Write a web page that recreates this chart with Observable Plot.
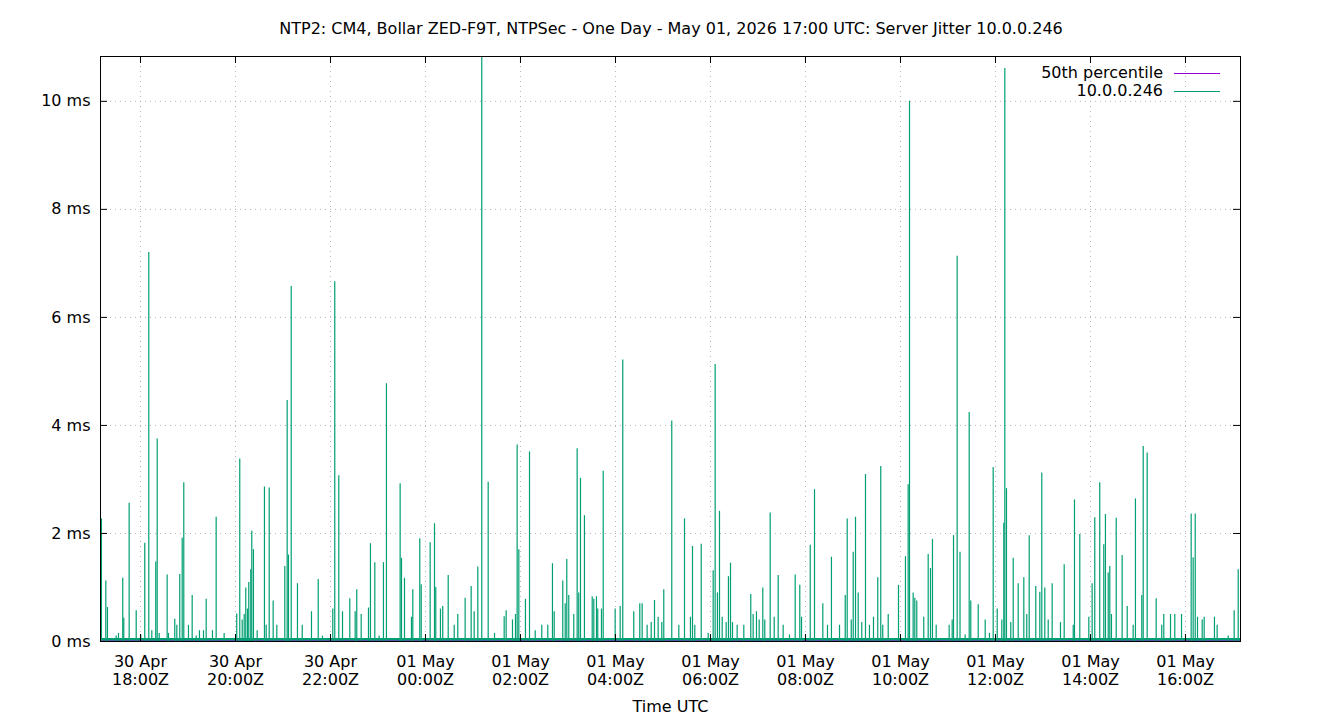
<!DOCTYPE html>
<html>
<head>
<meta charset="utf-8">
<script src="https://cdn.jsdelivr.net/npm/d3@7"></script>
<script src="https://cdn.jsdelivr.net/npm/@observablehq/plot@0.6"></script>
<style>
  body { margin: 0; background: #fff; font-family: "DejaVu Sans", sans-serif; color: #000; }
  #wrap { position: relative; width: 1340px; height: 720px; overflow: hidden; }
  #title { height: 40px; box-sizing: border-box; padding-top: 20px; line-height: 18px; text-align: center; font-size: 16px; white-space: nowrap; padding-left: 2px; }
  #legend { position: absolute; top: 64px; right: 120px; font-size: 16px; line-height: 18px; }
  .lg { display: flex; align-items: center; justify-content: flex-end; }
  .lg span.sw { display: inline-block; width: 46px; height: 0; border-top: 1px solid; margin-left: 11px; }
</style>
</head>
<body>
<div id="wrap">
  <div id="title">NTP2: CM4, Bollar ZED-F9T, NTPSec - One Day - May 01, 2026 17:00 UTC: Server Jitter 10.0.0.246</div>
  <div id="chart"></div>
  <div id="legend"></div>
</div>
<script>
// Reference instant: minutes below are counted from 30 Apr 2026 17:00 UTC
const originISO = "2026-04-30T17:00:00Z";
const domainMinutes = [9.5, 1449.5];

// Server jitter samples (minutes after origin, value in ms)
const jitterMinute = [
  10.7, 16.2, 18.3, 29.3, 32.2, 37.6, 38.9, 45.7, 54.6, 60.4, 65.4, 70.5, 74.3, 79.3, 81.1, 83.6, 93.7, 95.4,
  103.3, 105.9, 109.6, 112.7, 114.7, 120.6, 125.3, 130.4, 134.5, 139.6, 143, 150.9, 155.6, 165.7, 181.6, 185.4,
  188.5, 191, 193, 195.2, 196.8, 199.3, 200.6, 202.7, 207.4, 216.6, 218.8, 222.6, 227.6, 232.2, 242.3, 245.3,
  246.9, 250.4, 258.3, 264.3, 276, 284.5, 289.9, 302.9, 305.4, 310.5, 315.2, 324.4, 331.2, 333.2, 338.8, 348,
  350.5, 356, 361.5, 366.9, 370.7, 388, 389.7, 393.5, 402.3, 404, 412.8, 414.6, 425.9, 431.4, 433, 438.9, 441.8,
  448.7, 456.3, 460.8, 470.1, 477.7, 481.5, 486.1, 491.1, 499.2, 507.2, 519.4, 521.9, 529.9, 533.7, 535.8, 537.9,
  546.3, 551.4, 558.6, 566.9, 574.5, 580.4, 582.6, 593.4, 596.5, 598.5, 601, 607.3, 611.6, 613.6, 615.8, 620.8,
  630.6, 632.6, 636, 637.6, 642.3, 644.5, 659.6, 665.9, 669.2, 683.1, 690.7, 693.7, 700, 705.1, 709.3, 713.9,
  718.5, 721, 731.1, 740, 747.2, 754.7, 757.3, 760.2, 768.3, 777.1, 783.4, 785.9, 788.8, 791.4, 794.8, 799.8,
  802.7, 805.3, 807.8, 813.7, 822.1, 830.9, 833.9, 838.1, 841.5, 846.1, 848.6, 855.4, 860.5, 865.5, 871.8, 879.8,
  887, 892.8, 895, 906, 911.4, 921.9, 927.8, 932.8, 943, 950.2, 952.7, 957.8, 960.3, 963.2, 966.6, 971.1, 975.8,
  980.8, 985.9, 991.3, 995.1, 997.6, 1004.5, 1017.5, 1026.3, 1029.7, 1031.4, 1036, 1038.1, 1040.6, 1049.4, 1055,
  1057.9, 1060.4, 1065.1, 1081.5, 1085.3, 1087, 1091.6, 1095.2, 1101.7, 1106.8, 1108.8, 1118.2, 1127, 1132.4,
  1137.1, 1142.2, 1148, 1150.5, 1151.8, 1153.9, 1159.3, 1162.4, 1168.7, 1175.8, 1179.5, 1182.6, 1190.9, 1196,
  1198.5, 1202.3, 1206.6, 1211.6, 1222.1, 1226.8, 1238.2, 1239.8, 1246.5, 1257.9, 1262.1, 1265.4, 1271.7, 1276.8,
  1278.9, 1282.4, 1284.4, 1286.5, 1292.5, 1300, 1306.4, 1313.9, 1316.8, 1324.8, 1326.6, 1331.6, 1343, 1350,
  1352.6, 1361.1, 1366.5, 1375, 1387.2, 1389.7, 1392.3, 1395.2, 1401.1, 1403.6, 1416.6, 1420, 1434, 1441.5, 1446.6
];
const jitterMs = [
  2.27, 1.12, 0.63, 0.1, 0.15, 1.17, 0.43, 2.56, 0.57, 0.12, 1.82, 7.2, 0.2, 1.47, 3.75, 0.15, 1.23, 0.15,
  0.41, 0.3, 1.24, 1.91, 2.94, 0.3, 0.85, 0.1, 0.2, 0.2, 0.78, 0.2, 2.3, 0.15, 0.51, 3.38,
  0.4, 0.5, 0.99, 0.6, 1.09, 1.33, 2.04, 1.7, 0.2, 2.86, 0.3, 2.84, 0.75, 0.3, 1.39, 4.46,
  1.6, 6.57, 1.07, 0.3, 0.55, 1.15, 0.1, 0.6, 6.66, 3.07, 0.55, 0.79, 0.55, 0.96, 0.5, 0.62,
  1.81, 1.46, 0.1, 1.46, 4.77, 2.92, 1.54, 1.17, 0.45, 0.96, 1.9, 1.05, 1.83, 2.18, 1.0, 0.6, 0.65,
  1.22, 0.3, 0.5, 0.8, 1.02, 0.55, 1.38, 10.83, 2.95, 0.15, 0.46, 0.57, 0.4, 0.5, 3.64, 1.7,
  0.78, 3.51, 0.2, 0.3, 0.3, 1.44, 0.55, 1.12, 0.7, 1.52, 0.85, 0.5, 3.57, 0.9, 3.02, 2.33,
  0.83, 0.78, 0.83, 0.6, 0.6, 3.15, 0.6, 0.65, 5.21, 0.55, 0.7, 0.7, 0.3, 0.35, 0.76, 0.45,
  0.35, 0.96, 4.08, 0.3, 2.27, 0.45, 1.76, 0.3, 1.8, 0.15, 1.31, 5.13, 0.9, 2.41, 0.45, 0.35,
  1.2, 1.45, 0.35, 0.3, 0.3, 0.87, 0.5, 0.55, 0.4, 0.99, 0.4, 2.38, 0.45, 1.22, 0.3, 0.12,
  1.23, 1.04, 0.45, 1.78, 2.81, 0.7, 0.3, 1.56, 0.3, 0.85, 2.27, 0.4, 1.65, 2.3, 0.9, 0.35, 3.09,
  0.3, 0.45, 1.18, 3.24, 0.3, 0.5, 1.04, 1.57, 2.9, 10.0, 0.9, 0.8, 0.75, 0.45, 1.61,
  1.35, 1.89, 0.3, 0.3, 0.4, 1.96, 7.13, 1.65, 0.12, 4.24, 0.75, 0.68, 0.4, 0.15,
  3.22, 0.6, 0.4, 2.19, 10.61, 2.83, 0.35, 1.54, 1.07, 1.18, 0.5, 1.96, 1.02, 0.91,
  3.12, 0.99, 0.4, 1.07, 0.35, 1.42, 0.3, 2.62, 1.98, 0.45, 1.07, 2.29, 2.94, 1.79,
  2.35, 1.27, 1.39, 0.5, 2.28, 1.59, 0.65, 0.3, 2.64, 0.85, 3.61, 3.49, 0.79, 0.3,
  0.5, 0.5, 0.5, 0.5, 2.36, 1.55, 2.36, 0.45, 0.4, 0.45, 0.45, 0.3, 0.1, 0.57, 1.33
];
const floorMs = 0.04;        // typical jitter floor between spikes
const p50Ms = 0.02;          // 50th percentile

const yTicks = [0, 2, 4, 6, 8, 10];
const yMax = 10.83;
const xTickISO = [
  "2026-04-30T18:00:00Z", "2026-04-30T20:00:00Z", "2026-04-30T22:00:00Z", "2026-05-01T00:00:00Z",
  "2026-05-01T02:00:00Z", "2026-05-01T04:00:00Z", "2026-05-01T06:00:00Z", "2026-05-01T08:00:00Z",
  "2026-05-01T10:00:00Z", "2026-05-01T12:00:00Z", "2026-05-01T14:00:00Z", "2026-05-01T16:00:00Z"
];
const xTickLabels = [
  "30 Apr\n18:00Z", "30 Apr\n20:00Z", "30 Apr\n22:00Z", "01 May\n00:00Z",
  "01 May\n02:00Z", "01 May\n04:00Z", "01 May\n06:00Z", "01 May\n08:00Z",
  "01 May\n10:00Z", "01 May\n12:00Z", "01 May\n14:00Z", "01 May\n16:00Z"
];
const seriesNames = ["50th percentile", "10.0.0.246"];
const seriesColors = ["#9400d3", "#009e73"];

// ---- build ----
const origin = new Date(originISO).getTime();
const toDate = m => new Date(origin + m * 60000);
const jitter = jitterMinute.map((m, i) => ({t: toDate(m), v: jitterMs[i]}));
const xTicks = xTickISO.map(s => new Date(s));
const labelByTime = new Map(xTicks.map((d, i) => [+d, xTickLabels[i]]));
const xDomain = domainMinutes.map(toDate);

const W = 1340, H = 680, mL = 100, mR = 100, mT = 16, mB = 79;
const pw = W - mL - mR, ph = H - mT - mB, tk = 7;
const gridStyle = {stroke: "#b4b4b4", strokeOpacity: 1, strokeDasharray: "1,4"};

const chart = Plot.plot({
  width: W, height: H,
  marginLeft: mL, marginRight: mR, marginTop: mT, marginBottom: mB,
  style: {fontFamily: "'DejaVu Sans', sans-serif", fontSize: "16px", color: "#000", background: "#fff"},
  x: {type: "utc", domain: xDomain},
  y: {domain: [0, yMax]},
  marks: [
    Plot.gridY(yTicks, gridStyle),
    Plot.gridX(xTicks, gridStyle),
    Plot.ruleY([p50Ms], {stroke: seriesColors[0], strokeWidth: 1}),
    Plot.ruleX(jitter, {x: "t", y1: 0, y2: "v", stroke: seriesColors[1], strokeWidth: 1.2, clip: true}),
    Plot.ruleY([floorMs], {stroke: seriesColors[1], strokeWidth: 2.5}),
    Plot.tickY(yTicks, {y: d => d, insetRight: pw - tk, stroke: "#000"}),
    Plot.tickY(yTicks, {y: d => d, insetLeft: pw - tk, stroke: "#000"}),
    Plot.tickX(xTicks, {x: d => d, insetTop: ph - tk, stroke: "#000"}),
    Plot.tickX(xTicks, {x: d => d, insetBottom: ph - tk, stroke: "#000"}),
    Plot.frame({stroke: "#000", strokeWidth: 1}),
    Plot.axisY(yTicks, {tickSize: 0, tickPadding: 10, tickFormat: d => d + " ms", label: null, fontSize: 16}),
    Plot.axisX(xTicks, {tickSize: 0, tickPadding: 12, tickFormat: d => labelByTime.get(+d), label: null, fontSize: 16, lineHeight: 1.15}),
    Plot.text(["Time UTC"], {frameAnchor: "bottom", dy: 70, fontSize: 16, fill: "#000"})
  ]
});
document.getElementById("chart").appendChild(chart);

const lg = document.getElementById("legend");
seriesNames.forEach((n, i) => {
  const row = document.createElement("div");
  row.className = "lg";
  const t = document.createElement("span");
  t.textContent = n;
  const s = document.createElement("span");
  s.className = "sw";
  s.style.borderTopColor = seriesColors[i];
  row.appendChild(t); row.appendChild(s);
  lg.appendChild(row);
});
</script>
</body>
</html>
